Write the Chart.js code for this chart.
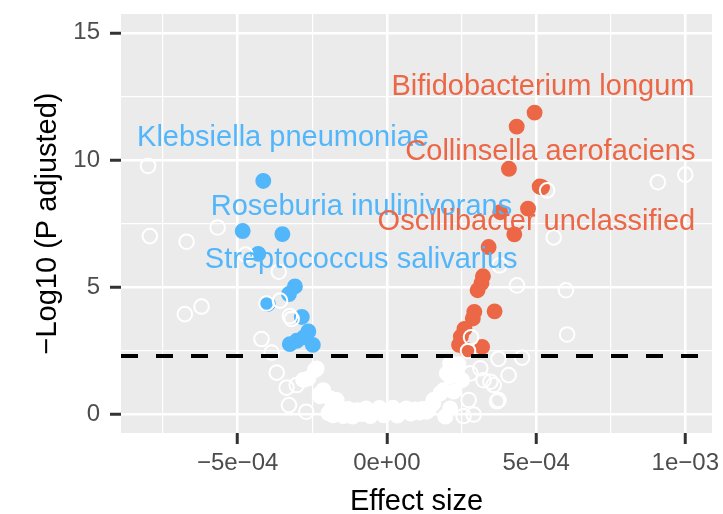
<!DOCTYPE html>
<html>
<head>
<meta charset="utf-8">
<script src="https://cdn.jsdelivr.net/npm/chart.js@4.4.1/dist/chart.umd.min.js"></script>
<style>
  html, body { margin: 0; padding: 0; background: #ffffff; }
  #wrap { width: 723px; height: 514px; position: relative; }
</style>
</head>
<body>
<div id="wrap"><canvas id="c"></canvas></div>
<script>
// ---------- data (effect size, -log10 adjusted p) ----------
const sigNegative = [
  [-4.14e-4, 9.17], [-4.83e-4, 7.20], [-3.50e-4, 7.08], [-4.31e-4, 6.30],
  [-3.08e-4, 5.02], [-3.28e-4, 4.72], [-3.99e-4, 4.33], [-2.85e-4, 3.82],
  [-2.63e-4, 3.25], [-2.78e-4, 3.02], [-3.02e-4, 2.88], [-3.25e-4, 2.75],
  [-2.48e-4, 2.72]
];
const sigPositive = [
  [4.95e-4, 11.86], [4.35e-4, 11.31], [4.09e-4, 9.65], [5.20e-4, 8.92],
  [5.12e-4, 8.95], [4.73e-4, 8.08], [3.80e-4, 7.94], [4.27e-4, 7.07],
  [3.41e-4, 6.57], [3.22e-4, 5.42], [3.17e-4, 5.15], [3.04e-4, 4.87],
  [2.93e-4, 4.02], [2.88e-4, 3.76], [3.61e-4, 4.04], [2.60e-4, 3.35],
  [2.48e-4, 3.05], [2.42e-4, 2.72], [2.68e-4, 2.52], [3.19e-4, 2.64]
];
const openPoints = [
  [-8.00e-4, 9.76], [-7.94e-4, 7.00], [-6.71e-4, 6.78], [-5.67e-4, 7.34],
  [-4.73e-4, 6.27], [-3.62e-4, 5.60], [-6.77e-4, 3.93], [-6.21e-4, 4.23],
  [-4.03e-4, 4.35], [-3.58e-4, 4.46], [-3.25e-4, 3.85], [-3.19e-4, 3.74],
  [-4.20e-4, 2.95], [-3.86e-4, 2.42], [-3.69e-4, 1.63], [-3.36e-4, 1.04],
  [-3.02e-4, 1.14], [-3.28e-4, 0.35], [-2.70e-4, 0.09], [-2.24e-4, 0.78],
  [5.37e-4, 8.80], [9.08e-4, 9.12], [1.00e-3, 9.42], [5.59e-4, 6.95],
  [3.78e-4, 5.85], [4.36e-4, 5.06], [6.00e-4, 4.87], [6.04e-4, 3.13],
  [4.53e-4, 2.22], [2.72e-4, 2.48], [2.82e-4, 3.02], [3.13e-4, 1.80],
  [2.80e-4, 1.60], [4.08e-4, 1.53], [3.47e-4, 1.27], [3.74e-4, 2.17],
  [3.74e-4, 0.55], [3.69e-4, 0.50], [2.74e-4, 0.55], [2.57e-4, -0.08],
  [2.91e-4, -0.02], [3.24e-4, 1.33], [3.58e-4, 1.14]
];
const nonSigPoints = [
  [-2.41e-4, 1.73], [-2.35e-4, 1.79], [-2.80e-4, 1.34], [-2.63e-4, 1.40],
  [-2.13e-4, 0.94], [-2.24e-4, 0.70], [-1.90e-4, 0.62], [-1.68e-4, 0.55],
  [-1.73e-4, 0.22], [-1.90e-4, 0.12], [-1.96e-4, 0.03],
  [-1.80e-4, -0.05], [-1.60e-4, 0.25], [-1.46e-4, -0.08], [-1.30e-4, 0.20],
  [-1.15e-4, -0.10], [-1.00e-4, 0.15], [-0.85e-4, 0.00], [-0.70e-4, 0.22],
  [-0.55e-4, -0.08], [-0.40e-4, 0.10], [-0.25e-4, 0.24], [-0.10e-4, -0.05],
  [0.05e-4, 0.12], [0.20e-4, 0.25], [0.35e-4, -0.06], [0.50e-4, 0.10],
  [0.65e-4, 0.22], [0.80e-4, 0.02], [0.95e-4, 0.18], [1.10e-4, 0.06],
  [1.20e-4, 0.20], [1.34e-4, 0.09], [1.45e-4, 0.28],
  [1.56e-4, 0.42], [1.56e-4, 0.55], [1.79e-4, 0.81], [1.90e-4, 0.94],
  [2.24e-4, 0.88], [2.12e-4, 1.47], [2.01e-4, 1.60], [2.24e-4, 1.86],
  [2.35e-4, 1.73], [2.52e-4, 1.33], [2.12e-4, 0.22], [1.96e-4, -0.10],
  [2.12e-4, 2.00], [2.40e-4, 1.95]
];
const threshold = 2.28;

const labelTexts = ['Klebsiella pneumoniae', 'Bifidobacterium longum', 'Collinsella aerofaciens',
                    'Roseburia inulinivorans', 'Oscillibacter unclassified', 'Streptococcus salivarius'];
const labelX = [-3.48e-4, 5.23e-4, 5.48e-4, -0.85e-4, 5.01e-4, -0.86e-4];
const labelY = [10.86, 12.86, 10.31, 8.16, 7.55, 6.06];
const labelGroup = ['neg', 'pos', 'pos', 'neg', 'pos', 'neg'];

const xMajorTicks = [-5e-4, 0, 5e-4, 1e-3];
const xTickLabels = ['\u22125e\u221204', '0e+00', '5e\u221204', '1e\u221203'];
const xMinorTicks = [-7.5e-4, -2.5e-4, 2.5e-4, 7.5e-4];
const yMajorTicks = [0, 5, 10, 15];
const yTickLabels = ['0', '5', '10', '15'];
const yMinorTicks = [2.5, 7.5, 12.5];

// ---------- styling ----------
const BLUE = '#52B6FB';
const RED = '#EC6746';
const FONT = "'Liberation Sans', Arial, Helvetica, sans-serif";

const toXY = arr => arr.map(p => ({ x: p[0], y: p[1] }));
function majorIndex(v, list) {
  for (let i = 0; i < list.length; i++) if (Math.abs(v - list[i]) < Math.abs(list[1] - list[0]) * 1e-6) return i;
  return -1;
}

const panelBg = {
  id: 'panelBg',
  beforeDraw(chart) {
    const { ctx, chartArea: a } = chart;
    ctx.save();
    ctx.fillStyle = '#EBEBEB';
    ctx.fillRect(a.left, a.top, a.right - a.left, a.bottom - a.top);
    ctx.restore();
  }
};

const overlay = {
  id: 'overlay',
  afterDatasetsDraw(chart) {
    const { ctx, chartArea: a, scales } = chart;
    const yy = scales.y.getPixelForValue(threshold);
    ctx.save();
    ctx.beginPath();
    ctx.rect(a.left, a.top, a.right - a.left, a.bottom - a.top);
    ctx.clip();
    ctx.strokeStyle = '#000000';
    ctx.lineWidth = 4;
    ctx.setLineDash([17, 18]);
    ctx.beginPath();
    ctx.moveTo(a.left, yy);
    ctx.lineTo(a.right, yy);
    ctx.stroke();
    ctx.setLineDash([]);
    ctx.font = '29px ' + FONT;
    ctx.textAlign = 'center';
    ctx.textBaseline = 'middle';
    for (let i = 0; i < labelTexts.length; i++) {
      ctx.fillStyle = labelGroup[i] === 'neg' ? BLUE : RED;
      ctx.fillText(labelTexts[i], scales.x.getPixelForValue(labelX[i]), scales.y.getPixelForValue(labelY[i]));
    }
    ctx.restore();
  }
};

function gridFor(majors) {
  return {
    color: '#FFFFFF',
    lineWidth: c => (c.tick && majorIndex(c.tick.value, majors) >= 0) ? 2.5 : 1.2,
    tickColor: c => (c.tick && majorIndex(c.tick.value, majors) >= 0) ? '#333333' : 'rgba(0,0,0,0)',
    tickWidth: 3,
    tickLength: 11,
    drawTicks: true,
    drawOnChartArea: true
  };
}

function noPad(s) { s.paddingTop = 0; s.paddingBottom = 0; s.paddingLeft = 0; s.paddingRight = 0; }

new Chart(document.getElementById('c'), {
  type: 'scatter',
  data: {
    datasets: [
      { label: 'open', data: toXY(openPoints), pointRadius: 7.3, pointBorderWidth: 2,
        pointBackgroundColor: 'rgba(0,0,0,0)', pointBorderColor: '#FFFFFF' },
      { label: 'up', data: toXY(sigPositive), pointRadius: 7.2, pointBorderWidth: 1.5,
        pointBackgroundColor: RED, pointBorderColor: RED },
      { label: 'down', data: toXY(sigNegative), pointRadius: 7.2, pointBorderWidth: 1.5,
        pointBackgroundColor: BLUE, pointBorderColor: BLUE },
      { label: 'ns', data: toXY(nonSigPoints), pointRadius: 7.2, pointBorderWidth: 1.5,
        pointBackgroundColor: '#FFFFFF', pointBorderColor: '#FFFFFF' }
    ]
  },
  options: {
    responsive: true,
    maintainAspectRatio: false,
    animation: false,
    devicePixelRatio: 1,
    layout: { padding: { top: 14, right: 11, left: 0, bottom: 0 }, autoPadding: false },
    plugins: { legend: { display: false }, tooltip: { enabled: false } },
    scales: {
      x: {
        type: 'linear',
        min: -8.907e-4,
        max: 1.0894e-3,
        afterBuildTicks: s => { s.ticks = xMinorTicks.concat(xMajorTicks).sort((a, b) => a - b).map(v => ({ value: v })); },
        afterFit: s => { s.height = 81; noPad(s); },
        grid: gridFor(xMajorTicks),
        border: { display: false },
        ticks: {
          autoSkip: false, maxRotation: 0, padding: 5, color: '#4D4D4D',
          font: { family: FONT, size: 24 },
          callback: v => { const i = majorIndex(v, xMajorTicks); return i >= 0 ? xTickLabels[i] : ''; }
        },
        title: { display: true, text: 'Effect size', color: '#000000',
                 font: { family: FONT, size: 29, lineHeight: 0.9 }, padding: { top: 0, bottom: -1 } }
      },
      y: {
        type: 'linear',
        min: -0.747,
        max: 15.74,
        afterBuildTicks: s => { s.ticks = yMinorTicks.concat(yMajorTicks).sort((a, b) => a - b).map(v => ({ value: v })); },
        afterFit: s => { s.width = 121; noPad(s); },
        grid: gridFor(yMajorTicks),
        border: { display: false },
        ticks: {
          autoSkip: false, padding: 10, color: '#4D4D4D',
          font: { family: FONT, size: 24 },
          callback: v => { const i = majorIndex(v, yMajorTicks); return i >= 0 ? yTickLabels[i] : ''; }
        },
        title: { display: true, text: '\u2212Log10 (P adjusted)', color: '#000000',
                 font: { family: FONT, size: 29, lineHeight: 0.9 }, padding: { top: 34.5, bottom: 0 } }
      }
    }
  },
  plugins: [panelBg, overlay]
});
</script>
</body>
</html>
